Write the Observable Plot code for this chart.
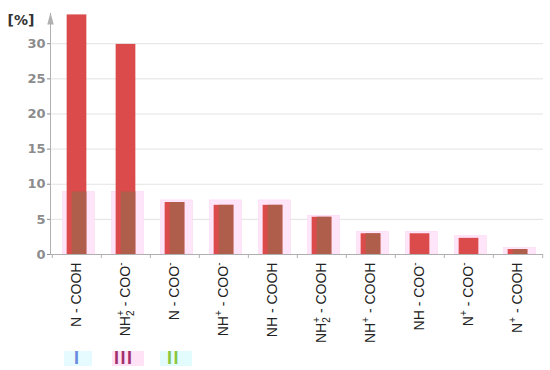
<!DOCTYPE html>
<html>
<head>
<meta charset="utf-8">
<script src="https://cdn.jsdelivr.net/npm/d3@7"></script>
<script src="https://cdn.jsdelivr.net/npm/@observablehq/plot@0.6"></script>
<style>
  html, body { margin: 0; padding: 0; background: #fff; }
  #chart svg { display: block; }
  #legend { position: relative; width: 550px; height: 25px; font-family: "Liberation Sans", Arial, sans-serif; }
  #legend .bg { position: absolute; top: 6px; height: 15px; }
  #legend .tx { position: absolute; top: 4px; font-size: 18px; line-height: 19px; letter-spacing: 1.5px; font-weight: bold; }
</style>
</head>
<body>
<div id="chart"></div>
<div id="legend"></div>
<script>
// Categories (markup: _x = subscript, ^x = superscript)
const categories = [
  "N - COOH",
  "NH_2^+ - COO^-",
  "N - COO^-",
  "NH^+ - COO^-",
  "NH - COOH",
  "NH_2^+ - COOH",
  "NH^+ - COOH",
  "NH - COO^-",
  "N^+ - COO^-",
  "N^+ - COOH"
];
// Series values [%]
const seriesI   = [34.1, 29.9, 7.4, 7.0, 7.0, 5.3, 2.95, 2.95, 2.3, 0.7];   // red
const seriesII  = [8.9, 8.9, 7.4, 7.0, 7.0, 5.3, 2.95, 0, 0, 0.7];         // brown overlay
const seriesIII = [8.9, 8.9, 7.7, 7.7, 7.7, 5.5, 3.2, 3.2, 2.6, 0.9];       // pink
const yTicks = [0, 5, 10, 15, 20, 25, 30];
const yLabel = "[%]";
const legendLabels = ["I", "III", "II"];

const data = categories.map((c, i) => ({cat: c, i: seriesI[i], ii: seriesII[i], iii: seriesIII[i]}));

const W = 550, H = 345, mL = 50, mR = 7, mT = 13, mB = 91;
const bw = (W - mL - mR) / categories.length;
const frameH = H - mT - mB;

const arrowHead = {
  draw(ctx) {
    ctx.moveTo(0, -1);
    ctx.lineTo(3.2, 11);
    ctx.lineTo(-3.2, 11);
    ctx.closePath();
  }
};

const plot = Plot.plot({
  width: W,
  height: H,
  marginLeft: mL,
  marginRight: mR,
  marginTop: mT,
  marginBottom: mB,
  style: {background: "#fff", fontFamily: "'Liberation Sans', Arial, sans-serif"},
  x: {type: "band", domain: categories, padding: 0, label: null},
  y: {domain: [0, 34.3], label: null},
  marks: [
    Plot.gridY(yTicks.filter(d => d > 0), {stroke: "#e3e3e3", strokeOpacity: 1}),
    Plot.barY(data, {x: "cat", y: "iii", fill: "#ffe5f9", stroke: "#fdd6f3", strokeWidth: 0.6,
      insetLeft: bw / 2 - 16 + 2, insetRight: bw / 2 - 16 - 2}),
    Plot.barY(data, {x: "cat", y: "i", fill: "#db4b4b",
      insetLeft: bw / 2 - 10, insetRight: bw / 2 - 10}),
    Plot.barY(data.filter(d => d.ii > 0), {x: "cat", y: "ii", fill: "#a8614b", fillOpacity: 0.9,
      insetLeft: bw / 2 - 5, insetRight: bw / 2 - 10}),
    Plot.ruleY([0], {stroke: "#b0b0b0"}),
    Plot.ruleX(categories, {x: d => d, dx: -bw / 2, stroke: "#b0b0b0", insetTop: frameH, insetBottom: -4}),
    Plot.ruleX([categories[categories.length - 1]], {x: d => d, dx: bw / 2, stroke: "#b0b0b0", insetTop: frameH, insetBottom: -4}),
    Plot.frame({anchor: "left", stroke: "#b0b0b0"}),
    Plot.dot([0], {frameAnchor: "top-left", symbol: arrowHead, fill: "#b0b0b0", stroke: null}),
    Plot.axisY({ticks: yTicks, tickSize: 3, tickPadding: 2, color: "#8c8c8c",
      fontSize: 13, fontWeight: "bold", fontFamily: "'DejaVu Sans', Verdana, sans-serif", label: null}),
    Plot.axisX({tickSize: 0, tickPadding: 8, tickRotate: -90, fontSize: 14, fill: "#222", label: null}),
    Plot.text([yLabel], {frameAnchor: "top-left", dx: -43, dy: 2, text: d => d, textAnchor: "start",
      fontSize: 14, fontWeight: "bold", fill: "#333", fontFamily: "'DejaVu Sans', Verdana, sans-serif"})
  ]
});

// Rich text for the category labels (subscripts / superscripts)
const NS = "http://www.w3.org/2000/svg";
function richLabel(el, markup) {
  el.textContent = "";
  let prevSub = false;
  for (let k = 0; k < markup.length; k++) {
    const ch = markup[k];
    if ((ch === "_" || ch === "^") && k + 1 < markup.length) {
      const t = document.createElementNS(NS, "tspan");
      t.textContent = markup[k + 1];
      t.setAttribute("font-size", "10");
      if (ch === "_") {
        t.setAttribute("baseline-shift", "-4");
        prevSub = true;
      } else {
        t.setAttribute("baseline-shift", "6");
        if (prevSub) t.setAttribute("dx", "-5.6");
        prevSub = false;
      }
      el.appendChild(t);
      k++;
    } else {
      prevSub = false;
      const t = document.createElementNS(NS, "tspan");
      t.textContent = ch;
      el.appendChild(t);
    }
  }
}
plot.querySelectorAll('g[aria-label="x-axis tick label"] text').forEach(el => {
  const key = el.textContent;
  if (categories.includes(key)) richLabel(el, key);
});

document.getElementById("chart").appendChild(plot);

// Legend below the chart
const legendStyle = [
  {bgLeft: 64, bgWidth: 28, bg: "#e6fbff", color: "#6a8ae0", tx: 74},
  {bgLeft: 112, bgWidth: 32, bg: "#ffe2f6", color: "#a3306d", tx: 114},
  {bgLeft: 160, bgWidth: 32, bg: "#e2fcfd", color: "#8cc63c", tx: 167}
];
const lg = document.getElementById("legend");
legendLabels.forEach((lab, i) => {
  const s = legendStyle[i];
  const bg = document.createElement("div");
  bg.className = "bg";
  bg.style.left = s.bgLeft + "px";
  bg.style.width = s.bgWidth + "px";
  bg.style.background = s.bg;
  lg.appendChild(bg);
  const tx = document.createElement("div");
  tx.className = "tx";
  tx.style.left = s.tx + "px";
  tx.style.color = s.color;
  tx.textContent = lab;
  lg.appendChild(tx);
});
</script>
</body>
</html>
